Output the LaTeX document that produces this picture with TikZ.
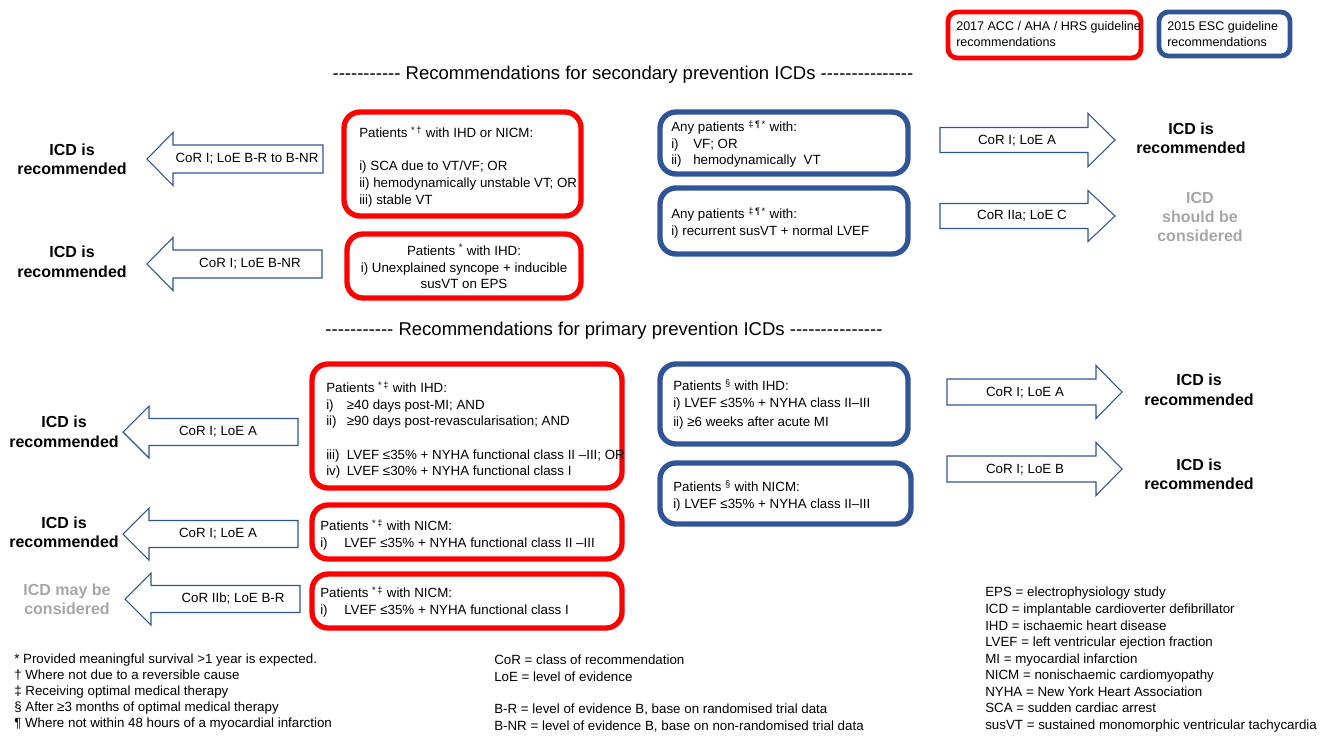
\documentclass[tikz,border=0pt]{standalone}
\usepackage{fontspec}
\setmainfont{Liberation Sans}[Ligatures=TeXOff]
\usetikzlibrary{positioning}

\definecolor{accred}{RGB}{255,0,0}
\definecolor{escblue}{RGB}{47,85,151}
\definecolor{icdgray}{RGB}{166,166,166}

\tikzset{
  accbox/.style={draw=accred,line width=4pt,rounded corners=12pt},
  escbox/.style={draw=escblue,line width=4pt,rounded corners=12pt},
  keybox/.style={line width=3.6pt,rounded corners=7pt},
  blockarrow/.style={draw=escblue,line width=0.8pt,fill=white,line join=miter},
  txt/.style={inner sep=0pt,align=left,anchor=north west,font=\fontsize{10}{12.4}\selectfont},
  cor/.style={inner sep=0pt,font=\fontsize{10}{12}\selectfont},
  icd/.style={inner sep=0pt,align=center,font=\bfseries\fontsize{12}{14.6}\selectfont},
  faint/.style={icd,text=icdgray},
  heading/.style={inner sep=0pt,font=\fontsize{13.9}{16}\selectfont},
}

\begin{document}
\begin{tikzpicture}[x=0.75pt,y=-0.75pt]
\useasboundingbox (0,0) rectangle (1333,735);

% key
\draw[keybox,draw=accred] (948,12) rectangle (1141,58);
\draw[keybox,draw=escblue] (1159,12) rectangle (1290,56);
\node[txt,font=\fontsize{9.4}{12}\selectfont] (keyacc) at (956,21) {2017 ACC / AHA / HRS guideline\\recommendations};
\node[txt,font=\fontsize{9.4}{12}\selectfont] (keyesc) at (1167,21) {2015 ESC guideline\\recommendations};

\node[heading] (secondary) at (623,75) {----------- Recommendations for secondary prevention ICDs ---------------};
\node[heading] (primary) at (604,331) {----------- Recommendations for primary prevention ICDs ---------------};

% secondary prevention, ACC/AHA/HRS
\draw[accbox] (344,112) rectangle (581,216);
\node[txt] (secacc) at (359,126) {Patients \textsuperscript{*\,†} with IHD or NICM:\\[12.4pt]
i) SCA due to VT/VF; OR\\ii) hemodynamically unstable VT; OR\\iii) stable VT};
\draw[accbox] (347,234) rectangle (581,298);
\node[txt,align=center,anchor=north] (secsync) at (464,244) {Patients \textsuperscript{*} with IHD:\\i) Unexplained syncope + inducible\\susVT on EPS};

\draw[blockarrow] (147,159) -- (173,132.5) -- (173,145) -- (323,145) -- (323,173) -- (173,173) -- (173,185.5) -- cycle;
\draw[blockarrow] (147,264) -- (173,237.5) -- (173,250) -- (322,250) -- (322,278) -- (173,278) -- (173,290.5) -- cycle;
\node[cor] (corsecacc) at (247,159) {CoR I; LoE B-R to B-NR};
\node[cor] (corsecsync) at (250,264) {CoR I; LoE B-NR};
\node[icd] (icdsecacc) at (72,159.5) {ICD is\\recommended};
\node[icd] (icdsecsync) at (72,262) {ICD is\\recommended};

% secondary prevention, ESC
\draw[escbox] (660,112) rectangle (908,174);
\node[txt] (secvf) at (671,120) {Any patients \textsuperscript{‡\,¶\,*} with:\\
\makebox[16.5pt][l]{i)}VF; OR\\\makebox[16.5pt][l]{ii)}hemodynamically\ \ VT};
\draw[escbox] (660,188) rectangle (908,254);
\node[txt] (secsusvt) at (671,207) {Any patients \textsuperscript{‡\,¶\,*} with:\\i) recurrent susVT + normal LVEF};

\draw[blockarrow] (940,127.5) -- (1088,127.5) -- (1088,113.5) -- (1115,140) -- (1088,166.5) -- (1088,152.5) -- (940,152.5) -- cycle;
\draw[blockarrow] (940,203.5) -- (1088,203.5) -- (1088,190.5) -- (1115,216) -- (1088,241.5) -- (1088,228.5) -- (940,228.5) -- cycle;
\node[cor] (corsecvf) at (1017,141) {CoR I; LoE A};
\node[cor] (corsecsusvt) at (1022,216) {CoR IIa; LoE C};
\node[icd] (icdsecvf) at (1191,138.5) {ICD is\\recommended};
\node[faint] (icdsecsusvt) at (1200,217) {ICD\\should be\\considered};

% primary prevention, ACC/AHA/HRS
\draw[accbox] (312,364) rectangle (622,488);
\node[txt] (priihd) at (326,381) {Patients \textsuperscript{*\,‡} with IHD:\\
\makebox[15.5pt][l]{i)}≥40 days post-MI; AND\\\makebox[15.5pt][l]{ii)}≥90 days post-revascularisation; AND\\[12.4pt]
\makebox[15.5pt][l]{iii)}LVEF ≤35\% + NYHA functional class II –III; OR\\\makebox[15.5pt][l]{iv)}LVEF ≤30\% + NYHA functional class I};
\draw[accbox] (312,505) rectangle (622,559);
\node[txt] (prinicm) at (320,519) {Patients \textsuperscript{*\,‡} with NICM:\\\makebox[18pt][l]{i)}LVEF ≤35\% + NYHA functional class II –III};
\draw[accbox] (312,574) rectangle (622,628);
\node[txt] (prinicmone) at (320,586) {Patients \textsuperscript{*\,‡} with NICM:\\\makebox[18pt][l]{i)}LVEF ≤35\% + NYHA functional class I};

\draw[blockarrow] (123,432) -- (149,406) -- (149,418.5) -- (298,418.5) -- (298,445.5) -- (149,445.5) -- (149,458) -- cycle;
\draw[blockarrow] (123,534) -- (149,508) -- (149,520.5) -- (298,520.5) -- (298,547.5) -- (149,547.5) -- (149,560) -- cycle;
\draw[blockarrow] (125,599) -- (151,573) -- (151,585.5) -- (300,585.5) -- (300,612.5) -- (151,612.5) -- (151,625) -- cycle;
\node[cor] (corpriihd) at (218,432) {CoR I; LoE A};
\node[cor] (corprinicm) at (218,534) {CoR I; LoE A};
\node[cor] (corprinicmone) at (233,599) {CoR IIb; LoE B-R};
\node[icd] (icdpriihd) at (64,432) {ICD is\\recommended};
\node[icd] (icdprinicm) at (64,532.5) {ICD is\\recommended};
\node[faint] (icdprinicmone) at (67,599.5) {ICD may be\\considered};

% primary prevention, ESC
\draw[escbox] (660,364) rectangle (908,444);
\node[txt] (escihd) at (673,379) {Patients \textsuperscript{§} with IHD:\\i) LVEF ≤35\% + NYHA class II–III\\[2pt]ii) ≥6 weeks after acute MI};
\draw[escbox] (660,463) rectangle (911,524);
\node[txt] (escnicm) at (673,480) {Patients \textsuperscript{§} with NICM:\\i) LVEF ≤35\% + NYHA class II–III};

\draw[blockarrow] (947,379) -- (1096,379) -- (1096,365.5) -- (1122,392) -- (1096,418.5) -- (1096,405) -- (947,405) -- cycle;
\draw[blockarrow] (947,456) -- (1096,456) -- (1096,442.5) -- (1122,469) -- (1096,495.5) -- (1096,482) -- (947,482) -- cycle;
\node[cor] (coreschd) at (1025,393) {CoR I; LoE A};
\node[cor] (corescnicm) at (1025,470) {CoR I; LoE B};
\node[icd] (icdescihd) at (1199,390) {ICD is\\recommended};
\node[icd] (icdescnicm) at (1199,474.5) {ICD is\\recommended};

% footnotes
\node[txt,font=\fontsize{10}{12}\selectfont] (marks) at (14,654) {* Provided meaningful survival >1 year is expected.\\
† Where not due to a reversible cause\\‡ Receiving optimal medical therapy\\
§ After ≥3 months of optimal medical therapy\\¶ Where not within 48 hours of a myocardial infarction};
\node[txt,font=\fontsize{10}{12.2}\selectfont] (grading) at (494,655) {CoR = class of recommendation\\LoE = level of evidence\\[12.2pt]
B-R = level of evidence B, base on randomised trial data\\B-NR = level of evidence B, base on non-randomised trial data};
\node[txt] (abbrev) at (985,587) {EPS = electrophysiology study\\ICD = implantable cardioverter defibrillator\\
IHD = ischaemic heart disease\\LVEF = left ventricular ejection fraction\\MI = myocardial infarction\\
NICM = nonischaemic cardiomyopathy\\NYHA = New York Heart Association\\SCA = sudden cardiac arrest\\
susVT = sustained monomorphic ventricular tachycardia};
\end{tikzpicture}
\end{document}
